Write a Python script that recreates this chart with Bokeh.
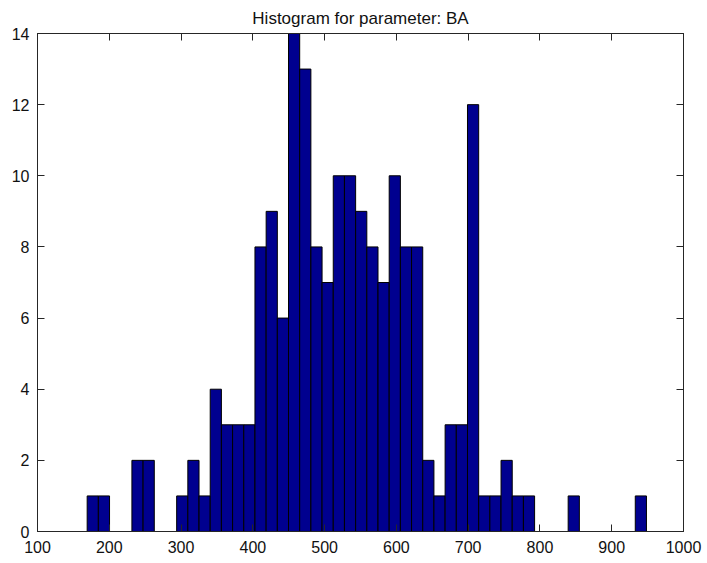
import numpy as np
from bokeh.plotting import figure
from bokeh.models import LinearAxis, FixedTicker, ColumnDataSource, Range1d, CustomJSTickFormatter
from bokeh.embed import file_html
from bokeh.resources import INLINE

# ---- data ----
title_text = "Histogram for parameter: BA"
data_min = 169.2
data_max = 948.4
n_bins = 50
counts = [1, 1, 0, 0, 2, 2, 0, 0, 1, 2,
          1, 4, 3, 3, 3, 8, 9, 6, 14, 13,
          8, 7, 10, 10, 9, 8, 7, 10, 8, 8,
          2, 1, 3, 3, 12, 1, 1, 2, 1, 1,
          0, 0, 0, 1, 0, 0, 0, 0, 0, 1]
x_ticks = [100, 200, 300, 400, 500, 600, 700, 800, 900, 1000]
y_ticks = [0, 2, 4, 6, 8, 10, 12, 14]

edges = np.linspace(data_min, data_max, n_bins + 1)
counts_arr = np.array(counts)
mask = counts_arr > 0
src = ColumnDataSource(dict(
    left=edges[:-1][mask], right=edges[1:][mask],
    top=counts_arr[mask], bottom=np.zeros(mask.sum())))

FONT = "Liberation Sans"
AX = "#262626"

p = figure(width=707, height=563, output_backend="svg", toolbar_location=None,
           x_range=Range1d(100, 1000), y_range=Range1d(0, 14),
           min_border_left=37, min_border_right=24, min_border_top=33,
           min_border_bottom=32, background_fill_color="white",
           border_fill_color="white", title=title_text)
p.title.text_font = FONT
p.title.text_font_size = "17px"
p.title.text_font_style = "normal"
p.title.text_color = "#111111"
p.title.align = "center"
p.title.text_line_height = 0.9
p.title.standoff = 12
p.title.offset = -10

p.quad(left="left", right="right", top="top", bottom="bottom", source=src,
       fill_color="#00008F", line_color="black", line_width=1)

p.xgrid.visible = False
p.ygrid.visible = False
p.outline_line_color = AX
p.outline_line_width = 1

def style(ax, ticks, labels=True):
    ax.ticker = FixedTicker(ticks=ticks)
    ax.axis_line_color = AX
    ax.major_tick_line_color = AX
    ax.major_tick_in = 7
    ax.major_tick_out = 0
    ax.minor_tick_line_color = None
    ax.major_label_text_font = FONT
    ax.major_label_text_font_size = "16px"
    ax.major_label_text_color = "#111111"
    ax.major_label_standoff = 8
    if not labels:
        ax.formatter = CustomJSTickFormatter(code="return ''")
        ax.major_label_standoff = 0

style(p.xaxis[0], x_ticks)
style(p.yaxis[0], y_ticks)
p.xaxis[0].major_label_standoff = 9

top_ax = LinearAxis()
style(top_ax, x_ticks, labels=False)
p.add_layout(top_ax, "above")
right_ax = LinearAxis()
style(right_ax, y_ticks, labels=False)
p.add_layout(right_ax, "right")

open("out.html", "w").write(file_html(p, INLINE))
